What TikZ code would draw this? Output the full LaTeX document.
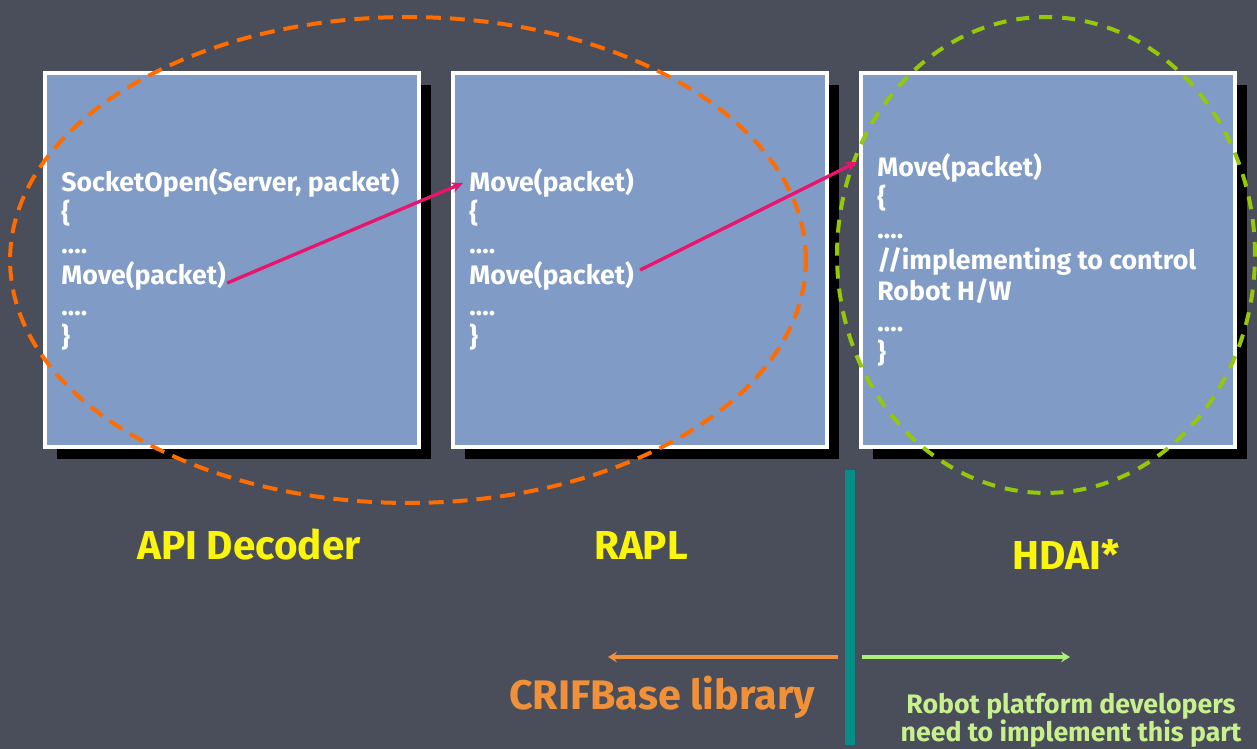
\documentclass[tikz,border=0pt]{standalone}
\usepackage{fontspec}
\setmainfont{Fira Sans}
\usetikzlibrary{arrows.meta,calc,shadows}

\definecolor{bgslate}{RGB}{74,78,91}
\definecolor{boxblue}{RGB}{127,155,198}
\definecolor{linkpink}{RGB}{232,20,110}
\definecolor{ringorange}{RGB}{255,108,0}
\definecolor{ringgreen}{RGB}{150,200,10}
\definecolor{divteal}{RGB}{8,140,136}
\definecolor{lblyellow}{RGB}{250,245,10}
\definecolor{liborange}{RGB}{240,145,58}
\definecolor{devgreen}{RGB}{200,240,140}

\tikzset{
  codebox/.style={draw=white, line width=2.27pt, fill=boxblue,
    minimum width=7.48cm, minimum height=7.48cm, inner sep=0,
    general shadow={fill=black, shadow xshift=0.24cm, shadow yshift=-0.24cm}},
  codeline/.style={anchor=west, text=white, inner sep=0,
    text height=11pt, text depth=3pt,
    font=\fontsize{15.2}{18}\selectfont\bfseries},
  link/.style={draw=linkpink, line width=1.9pt, -{Stealth[length=6.5pt,width=6pt]}},
  ring/.style={line width=2.27pt, dash pattern=on 8.5pt off 5.1pt},
  layername/.style={text=lblyellow, font=\fontsize{23}{27}\selectfont\bfseries},
  side/.style={line width=2pt, -{Stealth[length=5pt,width=6pt]}}
}

\begin{document}
\begin{tikzpicture}[x=0.02cm,y=-0.02cm]
\fill[bgslate] (0,0) rectangle (1257,749);
\useasboundingbox (0,0) rectangle (1257,749);

% the three layers
\node[codebox] (b1) at (232,260) {};
\node[codebox] (b2) at (640,260) {};
\node[codebox] (b3) at (1048,260) {};

% API Decoder code
\node[codeline] (d1) at (61,184) {SocketOpen(Server, packet)};
\node[codeline] (d2) at (61,215) {\{};
\node[codeline] (d3) at (61,246) {….};
\node[codeline] (d4) at (61,277) {Move(packet)};
\node[codeline] (d5) at (61,308) {….};
\node[codeline] (d6) at (61,339) {\}};

% RAPL code
\node[codeline] (r1) at (469,184) {Move(packet)};
\node[codeline] (r2) at (469,215) {\{};
\node[codeline] (r3) at (469,246) {….};
\node[codeline] (r4) at (469,277) {Move(packet)};
\node[codeline] (r5) at (469,308) {….};
\node[codeline] (r6) at (469,339) {\}};

% HDAI code
\node[codeline] (h1) at (877,169) {Move(packet)};
\node[codeline] (h2) at (877,200) {\{};
\node[codeline] (h3) at (877,231) {….};
\node[codeline] (h4) at (877,262) {//implementing to control};
\node[codeline] (h5) at (877,293) {Robot H/W};
\node[codeline] (h6) at (877,324) {….};
\node[codeline] (h7) at (877,355) {\}};

% groupings
\draw[ring, ringorange] (408,260) ellipse [x radius=7.96cm, y radius=4.86cm];
\draw[ring, ringgreen, dash pattern=on 7.4pt off 5.7pt] (1046,255) ellipse [x radius=4.18cm, y radius=4.76cm];

% calls between layers
\draw[link] ($(d4.east)+(1,6)$) -- ($(r1.west)+(-6,-1)$);
\draw[link] ($(r4.east)+(6,-7)$) -- ($(h1.west)+(-20,-7)$);

% layer names
\node[layername] (n1) at (249,545) {API Decoder};
\node[layername] (n2) at (641,545) {RAPL};
\node[layername] (n3) at (1066,555) {HDAI*};

% divider between library and platform parts
\coordinate (divtop) at (850,470);
\coordinate (divbot) at (850,745);
\draw[divteal, line width=5.67pt] (divtop) -- (divbot);

\coordinate (libend) at (608,657);
\coordinate (devend) at (1070,657);
\draw[side, liborange] (838,657) -- (libend);
\draw[side, devgreen!85!green] (862,657) -- (devend);

\node[text=liborange, font=\fontsize{23.5}{27}\selectfont\bfseries] (lib) at (662,697) {CRIFBase library};
\node[text=devgreen, align=center, font=\fontsize{15.2}{16}\selectfont\bfseries] (dev) at (1071,720)
  {Robot platform developers\\need to implement this part};
\end{tikzpicture}
\end{document}
